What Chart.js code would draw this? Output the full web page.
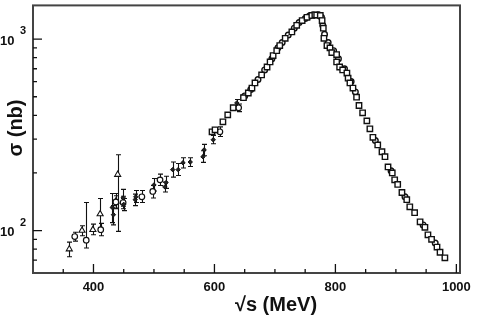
<!DOCTYPE html>
<html>
<head>
    <meta charset="UTF-8">
    <title>Sección eficaz</title>
    <style>
        body { margin: 0; padding: 0; background: #fff; }
        #wrap { width: 479px; height: 326px; position: relative; }
    </style>
</head>
<body>
    <div id="wrap"><canvas id="myChart"></canvas></div>

    <script src="https://cdn.jsdelivr.net/npm/chart.js"></script>
    <script>
        // Datos (sqrt(s) en MeV, sigma en nb)
        var triE   = [360, 381, 399, 411, 440, 437];
        var triSig = [80, 100, 101, 122, 196, 142];
        var triLo  = [7, 6, 6, 22, 97, 12];
        var triHi  = [7, 6, 7, 25, 53, 14];

        var cirE   = [369, 388, 412, 437, 449, 480, 498, 510, 609, 640];
        var cirSig = [93, 89, 101, 141, 140, 150, 160, 184, 328, 438];
        var cirLo  = [5, 8, 7, 10, 10, 10, 12, 12, 18, 20];
        var cirHi  = [5, 51, 8, 11, 11, 12, 12, 13, 20, 20];

        var starE   = [431, 433, 449, 450, 469, 470, 500, 518, 520, 531, 540, 548, 560, 581, 583, 598, 637];
        var starSig = [132, 121, 148, 137, 145, 150, 173, 169, 178, 208, 208, 226, 228, 243, 264, 298, 464];
        var starLo  = [22, 14, 14, 10, 10, 10, 12, 10, 12, 18, 14, 14, 12, 16, 18, 14, 20];
        var starHi  = [24, 14, 16, 10, 10, 12, 14, 10, 14, 20, 16, 14, 12, 18, 18, 16, 20];

        var sqE = [596, 601, 614, 622, 631, 648, 656, 662, 667, 678, 687, 692, 697, 703, 708, 717, 728, 736, 745, 753,
                   761, 766, 769, 775, 778, 780, 781, 786, 791, 794, 802, 802, 807, 812, 819, 821, 824, 829, 835, 839,
                   845, 852, 857, 862, 870, 877, 882, 887, 894, 898, 903, 910, 918, 923, 931, 940, 948, 953, 959, 968,
                   973, 981];
        var sqSig = [328, 336, 370, 402, 438, 494, 523, 555, 590, 650, 715, 760, 820, 870, 925, 1010, 1090, 1180, 1250, 1300,
                     1330, 1340, 1335, 1330, 1250, 1140, 1010, 925, 900, 850, 830, 760, 715, 690, 665, 625, 590, 555, 497, 450,
                     412, 374, 340, 307, 280, 258, 243, 215, 200, 184, 174, 158, 145, 133, 124, 111, 104, 95, 90, 82,
                     77, 72];

        var cir2E   = [650, 660, 672, 683, 695, 705, 712, 722, 732, 740, 750, 757, 763, 772, 777, 779, 782, 788, 797, 805,
                       815, 826, 833, 866, 892, 915, 945, 965];
        var cir2Sig = [505, 545, 615, 690, 790, 900, 960, 1050, 1140, 1220, 1280, 1320, 1335, 1340, 1300, 1180, 1060, 960, 870, 790,
                       700, 600, 530, 295, 205, 150, 107, 86];

        // Marcas de los ejes
        var xMajor = [400, 600, 800, 1000];
        var xMinor = [350, 450, 500, 550, 650, 700, 750, 850, 900, 950];
        var yMajor = [100, 1000];
        var yMinor = [70, 80, 90, 200, 300, 400, 500, 600, 700, 800, 900];
        var yExp = ['2', '3'];

        function pts(xs, ys) {
            return xs.map(function(v, i) { return { x: v, y: ys[i] }; });
        }

        var errorBars = {
            id: 'errorBars',
            beforeDatasetsDraw: function(chart) {
                var ctx = chart.ctx, xs = chart.scales.x, ys = chart.scales.y;
                ctx.save();
                ctx.strokeStyle = '#111';
                ctx.lineWidth = 1.1;
                chart.data.datasets.forEach(function(ds) {
                    if (!ds.errLo) return;
                    ds.data.forEach(function(p, i) {
                        var px = Math.round(xs.getPixelForValue(p.x)) + 0.5;
                        var y1 = ys.getPixelForValue(p.y - ds.errLo[i]);
                        var y2 = ys.getPixelForValue(p.y + ds.errHi[i]);
                        ctx.beginPath();
                        ctx.moveTo(px, y1); ctx.lineTo(px, y2);
                        ctx.moveTo(px - 2.5, y1); ctx.lineTo(px + 2.5, y1);
                        ctx.moveTo(px - 2.5, y2); ctx.lineTo(px + 2.5, y2);
                        ctx.stroke();
                    });
                });
                ctx.restore();
            }
        };

        var frame = {
            id: 'frame',
            afterDraw: function(chart) {
                var ctx = chart.ctx, a = chart.chartArea, xs = chart.scales.x, ys = chart.scales.y;
                ctx.save();
                ctx.strokeStyle = '#444';
                ctx.lineWidth = 2;
                ctx.strokeRect(a.left, a.top, a.right - a.left, a.bottom - a.top);

                ctx.strokeStyle = '#111';
                ctx.lineWidth = 1.3;
                ctx.beginPath();
                xMajor.forEach(function(v) {
                    var px = xs.getPixelForValue(v);
                    ctx.moveTo(px, a.bottom); ctx.lineTo(px, a.bottom - 9);
                });
                xMinor.forEach(function(v) {
                    var px = xs.getPixelForValue(v);
                    ctx.moveTo(px, a.bottom); ctx.lineTo(px, a.bottom - 4);
                });
                yMajor.forEach(function(v) {
                    var py = ys.getPixelForValue(v);
                    ctx.moveTo(a.left, py); ctx.lineTo(a.left + 9, py);
                });
                yMinor.forEach(function(v) {
                    var py = ys.getPixelForValue(v);
                    ctx.moveTo(a.left, py); ctx.lineTo(a.left + 4, py);
                });
                ctx.stroke();

                ctx.fillStyle = '#111';
                ctx.font = 'bold 13px "Liberation Sans", Arial, sans-serif';
                ctx.textAlign = 'center';
                ctx.textBaseline = 'middle';
                xMajor.forEach(function(v) {
                    ctx.fillText(String(v), xs.getPixelForValue(v), 287);
                });

                yMajor.forEach(function(v, i) {
                    var py = ys.getPixelForValue(v);
                    ctx.textAlign = 'left';
                    ctx.font = 'bold 13px "Liberation Sans", Arial, sans-serif';
                    ctx.fillText('10', 0, py + 2);
                    ctx.font = 'bold 11px "Liberation Sans", Arial, sans-serif';
                    ctx.fillText(yExp[i], 20, py - 8);
                });

                // títulos de los ejes
                ctx.font = 'bold 20px "Liberation Sans", Arial, sans-serif';
                ctx.textAlign = 'center';
                ctx.fillText('\u221As (MeV)', 276, 305);
                ctx.save();
                ctx.translate(16, 128);
                ctx.rotate(-Math.PI / 2);
                ctx.fillText('\u03C3 (nb)', 0, 0);
                ctx.restore();
                ctx.restore();
            }
        };

        var ctx = document.getElementById('myChart').getContext('2d');
        var chart = new Chart(ctx, {
            type: 'scatter',
            data: {
                datasets: [
                    { label: 'squares', data: pts(sqE, sqSig), pointStyle: 'rect', pointRadius: 3.8,
                      borderColor: '#111', backgroundColor: '#fff', borderWidth: 1.4 },
                    { label: 'circles2', data: pts(cir2E, cir2Sig), pointStyle: 'circle', pointRadius: 2.8,
                      borderColor: '#111', backgroundColor: '#fff', borderWidth: 1.4 },
                    { label: 'stars', data: pts(starE, starSig), errLo: starLo, errHi: starHi, pointStyle: 'rectRot',
                      pointRadius: 2.2, borderColor: '#111', backgroundColor: '#222', borderWidth: 1 },
                    { label: 'circles', data: pts(cirE, cirSig), errLo: cirLo, errHi: cirHi, pointStyle: 'circle',
                      pointRadius: 2.8, borderColor: '#111', backgroundColor: '#fff', borderWidth: 1.2 },
                    { label: 'triangles', data: pts(triE, triSig), errLo: triLo, errHi: triHi, pointStyle: 'triangle',
                      pointRadius: 3.5, borderColor: '#111', backgroundColor: '#fff', borderWidth: 1.1 }
                ]
            },
            options: {
                responsive: true,
                maintainAspectRatio: false,
                animation: false,
                layout: { padding: { top: 5, right: 19, left: 0, bottom: 0 } },
                plugins: { legend: { display: false }, tooltip: { enabled: false } },
                scales: {
                    x: {
                        type: 'linear', min: 300, max: 1006,
                        grid: { display: false, drawTicks: false },
                        border: { display: false },
                        ticks: { display: false },
                        afterFit: function(s) { s.height = 53; }
                    },
                    y: {
                        type: 'logarithmic', min: 60, max: 1500,
                        grid: { display: false, drawTicks: false },
                        border: { display: false },
                        ticks: { display: false },
                        afterFit: function(s) { s.width = 33; }
                    }
                }
            },
            plugins: [errorBars, frame]
        });
    </script>
</body>
</html>
